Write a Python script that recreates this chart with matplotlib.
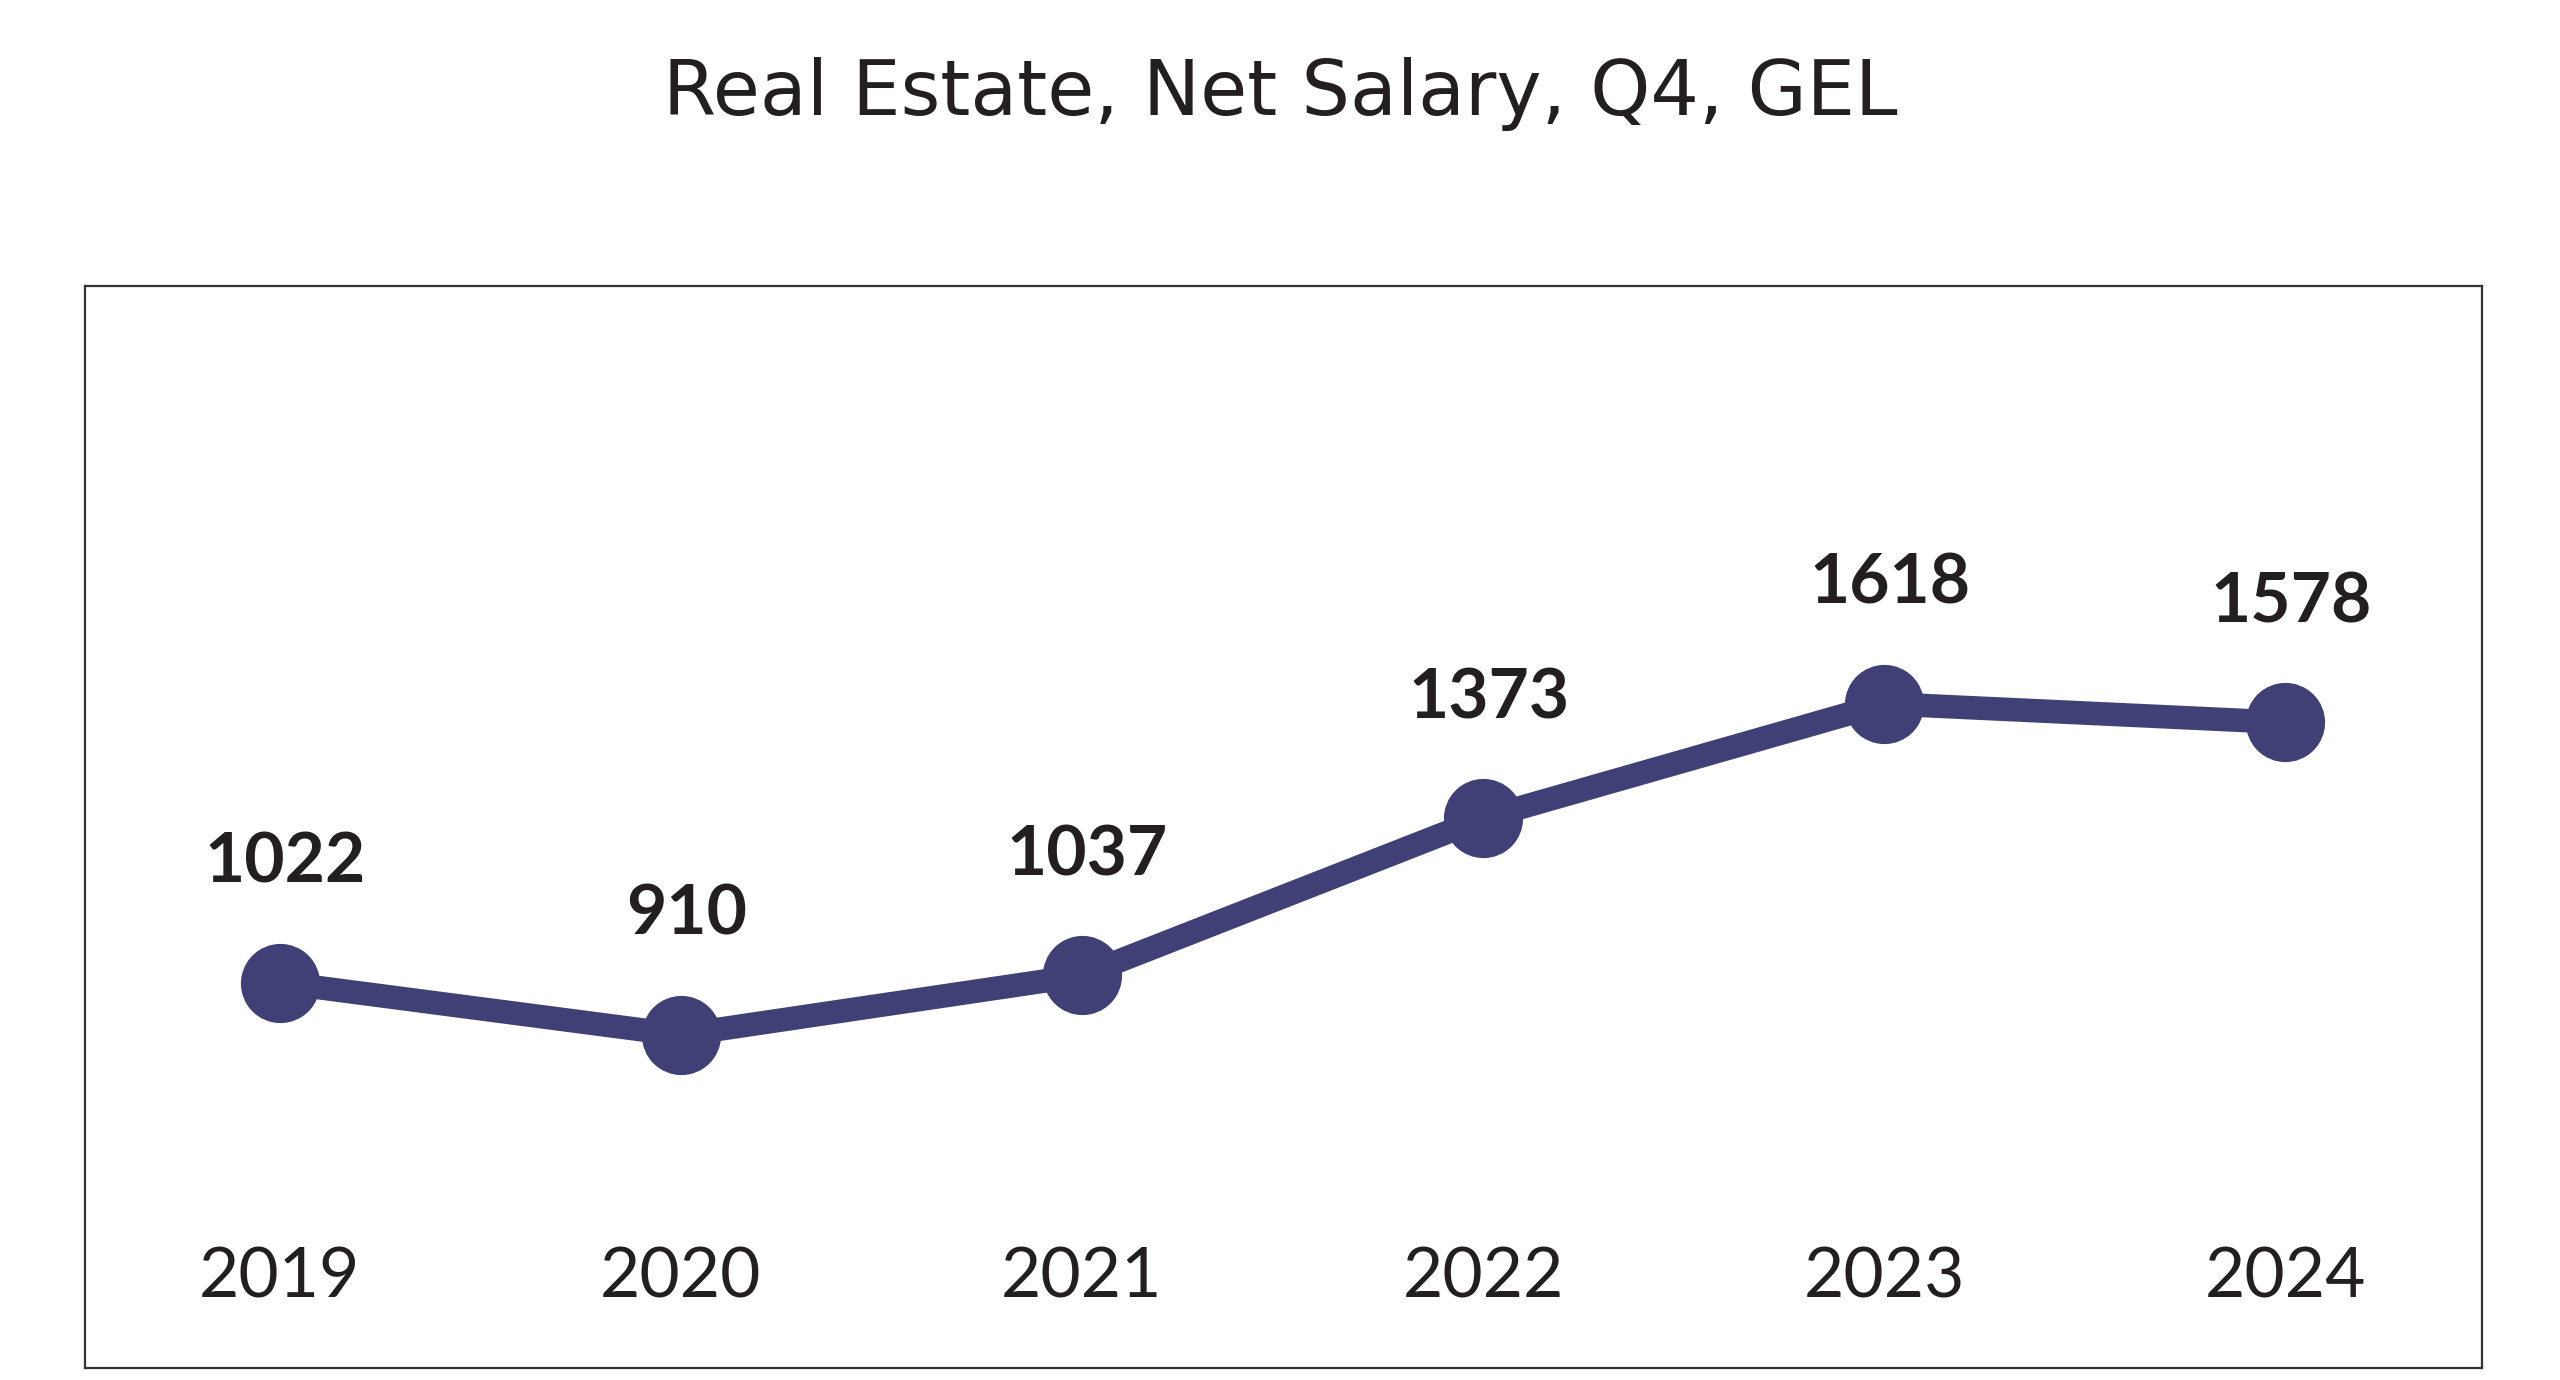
import numpy as np
import matplotlib
matplotlib.use("Agg")
import matplotlib.pyplot as plt

# Chart data
years = ["2019", "2020", "2021", "2022", "2023", "2024"]
salary = [1022, 910, 1037, 1373, 1618, 1578]

line_color = "#404076"
text_color = "#231f20"

fig = plt.figure(figsize=(25.6, 13.8), dpi=100)
ax = fig.add_axes([0.0332, 0.0087, 0.9363, 0.7841])

x = np.arange(len(years))
ax.plot(x, salary, color=line_color, linewidth=17, marker="o", markersize=56,
        solid_joinstyle="round", zorder=3)

# value labels above each point
for xi, v in zip(x, salary):
    ax.annotate(str(v), (xi, v), xytext=(4, 86), textcoords="offset points",
                ha="center", va="center", fontsize=50, fontweight="bold",
                family="Lato", color=text_color)

# year labels inside the frame near the bottom
for xi, yr in zip(x, years):
    ax.text(xi, 0.083, yr, transform=ax.get_xaxis_transform(),
            ha="center", va="center", fontsize=50, family="Lato",
            color=text_color)

ax.set_xlim(-0.485, 5.49)
ax.set_ylim(198, 2511)
ax.set_xticks([])
ax.set_yticks([])
for s in ax.spines.values():
    s.set_linewidth(1.6)
    s.set_color("#333333")

fig.text(0.5, 1 - 94 / 1380, "Real Estate, Net Salary, Q4, GEL",
         ha="center", va="center", fontsize=55, color=text_color)

fig.savefig("out.png", dpi=100, facecolor="white")
